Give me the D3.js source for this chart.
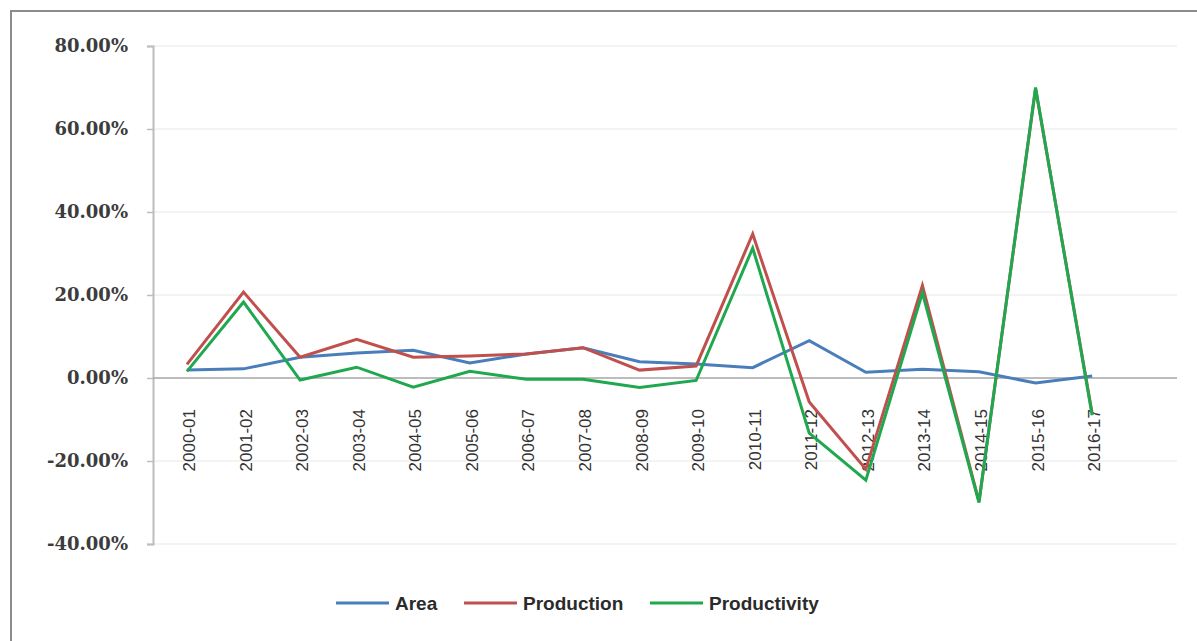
<!DOCTYPE html>
<html>
<head>
<meta charset="utf-8">
<script src="https://cdn.jsdelivr.net/npm/d3@7"></script>
<style>
  body { margin: 0; background: #fff; }
  svg { display: block; }
</style>
</head>
<body>
<svg width="1197" height="641"></svg>
<script>
// the chart's data
const years = ["2000-01", "2001-02", "2002-03", "2003-04", "2004-05", "2005-06",
  "2006-07", "2007-08", "2008-09", "2009-10", "2010-11", "2011-12", "2012-13",
  "2013-14", "2014-15", "2015-16", "2016-17"];
const area         = [1.9, 2.2, 5.0, 6.0, 6.7, 3.6, 5.8, 7.3, 3.9, 3.4, 2.5, 9.0, 1.4, 2.1, 1.5, -1.2, 0.5];
const production   = [3.3, 20.7, 5.0, 9.3, 5.0, 5.3, 5.8, 7.3, 1.9, 2.9, 34.7, -5.8, -22.0, 22.3, -29.8, 69.7, -8.5];
const productivity = [1.6, 18.3, -0.5, 2.6, -2.2, 1.6, -0.3, -0.3, -2.3, -0.6, 31.3, -13.3, -24.6, 20.5, -30.0, 70.0, -9.0];
const yTicks = [80, 60, 40, 20, 0, -20, -40];

const series = [
  {name: "Area", values: area, color: "#4A7EBB"},
  {name: "Production", values: production, color: "#C0504D"},
  {name: "Productivity", values: productivity, color: "#1FA84F"}
];

let svg = d3.select("svg");

// outer frame
svg.append("rect")
  .attr("x", 11).attr("y", 11)
  .attr("width", 1190).attr("height", 640)
  .attr("fill", "none")
  .attr("stroke", "#8c8c8c")
  .attr("stroke-width", 2);

let margin = {top: 46, left: 153};
let width = 1177 - margin.left,
    height = 544 - margin.top;

// 18 slots along x, the last one stays empty
let x = d3.scaleLinear().domain([-0.6, 17.5]).range([0, width]);
let y = d3.scaleLinear().domain([-40, 80]).range([height, 0]);

let g = svg.append("g")
  .attr("transform", "translate(" + margin.left + "," + margin.top + ")");

// gridlines
g.append("g")
  .selectAll("line")
  .data(yTicks.filter(d => d !== 0))
  .enter().append("line")
    .attr("x1", 0).attr("x2", width)
    .attr("y1", d => y(d)).attr("y2", d => y(d))
    .attr("stroke", "#efefef")
    .attr("stroke-width", 1.5);

// y axis
let yAxis = g.append("g")
  .call(d3.axisLeft(y).tickValues(yTicks).tickSize(6).tickPadding(19)
    .tickFormat(d => d.toFixed(2) + "%"));
yAxis.select(".domain").attr("stroke", "#bdbdbd").attr("stroke-width", 2);
yAxis.selectAll(".tick line").attr("stroke", "#bdbdbd").attr("stroke-width", 1.5);
yAxis.selectAll(".tick text")
  .attr("fill", "#3c3c3c")
  .style("font-family", "'DejaVu Serif', serif")
  .style("font-weight", "bold")
  .style("font-size", "18px");

// zero line
g.append("line")
  .attr("x1", 0).attr("x2", width)
  .attr("y1", y(0)).attr("y2", y(0))
  .attr("stroke", "#a6a6a6")
  .attr("stroke-width", 1.5);

// category labels, rotated
g.append("g")
  .selectAll("text")
  .data(years)
  .enter().append("text")
    .attr("transform", (d, i) => "translate(" + (x(i) + 8) + "," + (y(0) + 31) + ") rotate(-90)")
    .attr("text-anchor", "end")
    .attr("fill", "#333")
    .style("font-family", "'Liberation Sans', sans-serif")
    .style("font-size", "17px")
    .text(d => d);

// lines
let line = d3.line()
  .x((d, i) => x(i))
  .y(d => y(d));

g.selectAll(".series")
  .data(series)
  .enter().append("path")
    .attr("class", "series")
    .attr("d", d => line(d.values))
    .attr("fill", "none")
    .attr("stroke", d => d.color)
    .attr("stroke-width", 3)
    .attr("stroke-linejoin", "miter");

// legend
let legendX = [336, 464, 650];
let legend = svg.append("g");
series.forEach(function(s, i) {
  legend.append("line")
    .attr("x1", legendX[i]).attr("x2", legendX[i] + 53)
    .attr("y1", 603).attr("y2", 603)
    .attr("stroke", s.color)
    .attr("stroke-width", 3);
  legend.append("text")
    .attr("x", legendX[i] + 59).attr("y", 610)
    .attr("fill", "#2b2b2b")
    .style("font-family", "'Liberation Sans', sans-serif")
    .style("font-weight", "bold")
    .style("font-size", "19px")
    .text(s.name);
});
</script>
</body>
</html>
